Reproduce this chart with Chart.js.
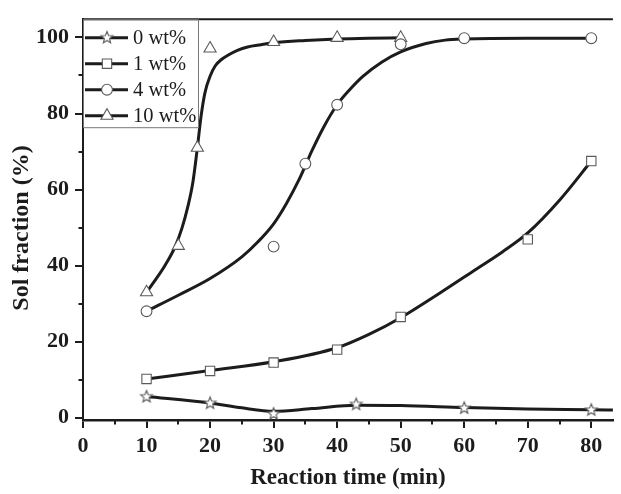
<!DOCTYPE html>
<html>
<head>
<meta charset="utf-8">
<script src="https://cdn.jsdelivr.net/npm/chart.js@4.4.1/dist/chart.umd.min.js"></script>
<style>
  html, body { margin: 0; padding: 0; background: #fff; overflow: hidden; }
  #wrap { width: 621px; height: 494px; }
</style>
</head>
<body>
<div id="wrap"><canvas id="solChart" width="621" height="494"></canvas></div>
<script>
// measured sol fractions per filler loading
const seriesNames = ['0 wt%', '1 wt%', '4 wt%', '10 wt%']

const time0 = [10, 20, 30, 43, 60, 80]
const sol0 = [5.5, 3.8, 1.0, 3.5, 2.5, 2.0]
const time1 = [10, 20, 30, 40, 50, 70, 80]
const sol1 = [10.2, 12.3, 14.5, 17.9, 26.5, 46.9, 67.5]
const time4 = [10, 30, 35, 40, 50, 60, 80]
const sol4 = [28, 45, 66.8, 82.3, 98.2, 99.8, 99.8]
const time10 = [10, 15, 18, 20, 30, 40, 50]
const sol10 = [33, 45.2, 71, 97.1, 98.8, 99.9, 99.9]

// fitted curves
const fitTime0 = [10, 20, 25, 30, 36, 43, 50, 60, 70, 80, 84]
const fitSol0 = [5.6, 3.9, 2.6, 1.7, 2.4, 3.3, 3.2, 2.7, 2.3, 2.1, 2.0]
const fitTime1 = [10, 20, 30, 40, 45, 50, 56, 62, 66, 70, 75, 80]
const fitSol1 = [10.2, 12.4, 14.7, 18.4, 21.9, 26.3, 32.6, 39.2, 43.6, 48.6, 57.2, 67.5]
const fitTime4 = [10, 15, 20, 25, 27.5, 30, 32, 34, 35, 36, 38, 40, 42, 44, 47, 50, 54, 57, 60, 70, 80]
const fitSol4 = [28, 32.2, 36.6, 42.3, 46.2, 51, 56.3, 62.6, 66.3, 70.1, 76.8, 82.3, 86.3, 89.7, 93.5, 96.2, 98.4, 99.3, 99.6, 99.8, 99.8]
const fitTime10 = [10, 11.5, 13, 14.5, 15.6, 16.5, 17.3, 18, 18.6, 19.2, 20, 20.8, 21.8, 22.8, 24.3, 25.9, 28, 30, 35, 40, 45, 50]
const fitSol10 = [33, 36.5, 40.3, 45, 50, 55.5, 62, 71, 79.5, 85.5, 89.8, 92.5, 94.2, 95.3, 96.6, 97.5, 98.1, 98.6, 99.2, 99.6, 99.8, 99.9]

const xTicks = [0, 10, 20, 30, 40, 50, 60, 70, 80]
const yTicks = [0, 20, 40, 60, 80, 100]

const pair = (xs, ys) => xs.map((x, i) => ({ x: x, y: ys[i] }))

const INK = '#1c1c1c'
const MARK = '#5a5a5a'
const SERIF = '"Liberation Serif", "Times New Roman", serif'

// open five-point star used for the 0 wt% markers
function makeStar(outer, inner) {
  const size = Math.ceil(outer * 2 + 3)
  const c = document.createElement('canvas')
  c.width = size
  c.height = size
  const g = c.getContext('2d')
  g.beginPath()
  for (let i = 0; i < 10; i++) {
    const r = i % 2 === 0 ? outer : inner
    const a = -Math.PI / 2 + i * Math.PI / 5
    const px = size / 2 + r * Math.cos(a)
    const py = size / 2 + r * Math.sin(a)
    if (i === 0) g.moveTo(px, py)
    else g.lineTo(px, py)
  }
  g.closePath()
  g.fillStyle = '#fff'
  g.fill()
  g.strokeStyle = MARK
  g.lineWidth = 1.1
  g.stroke()
  return c
}

const starImg = makeStar(6.2, 2.7)

const markerStyles = [
  { pointStyle: starImg, radius: 6 },
  { pointStyle: 'rect', radius: 6.6 },
  { pointStyle: 'circle', radius: 5.4 },
  { pointStyle: 'triangle', radius: 7 }
]

function fitLine(xs, ys) {
  return {
    data: pair(xs, ys),
    showLine: true,
    borderColor: INK,
    borderWidth: 3,
    pointRadius: 0,
    cubicInterpolationMode: 'monotone',
    order: 2
  }
}

function markers(xs, ys, k) {
  return {
    label: seriesNames[k],
    data: pair(xs, ys),
    showLine: false,
    pointStyle: markerStyles[k].pointStyle,
    pointRadius: markerStyles[k].radius,
    pointBackgroundColor: '#fff',
    pointBorderColor: MARK,
    pointBorderWidth: 1.1,
    order: 1
  }
}

// top frame line plus the minor ticks on both axes
const framePlugin = {
  id: 'frame',
  afterDraw(chart) {
    const { ctx, chartArea: a, scales } = chart
    ctx.save()
    ctx.strokeStyle = INK
    ctx.lineWidth = 2
    ctx.beginPath()
    ctx.moveTo(a.left - 1, a.top)
    ctx.lineTo(a.right, a.top)
    ctx.stroke()

    for (let v = 10; v < 100; v += 20) {
      const y = Math.round(scales.y.getPixelForValue(v))
      ctx.beginPath()
      ctx.moveTo(a.left, y)
      ctx.lineTo(a.left - 4.5, y)
      ctx.stroke()
    }
    for (let v = 5; v < 84; v += 10) {
      const x = Math.round(scales.x.getPixelForValue(v))
      ctx.beginPath()
      ctx.moveTo(x, a.bottom)
      ctx.lineTo(x, a.bottom + 4.5)
      ctx.stroke()
    }

    // y axis title
    ctx.fillStyle = INK
    ctx.font = 'bold 24px ' + SERIF
    ctx.textAlign = 'center'
    ctx.textBaseline = 'middle'
    ctx.translate(22, 228)
    ctx.rotate(-Math.PI / 2)
    ctx.fillText('Sol fraction (%)', 0, 0)
    ctx.restore()
  }
}

// boxed legend in the upper left corner of the plot
const legendPlugin = {
  id: 'boxLegend',
  afterDraw(chart) {
    const { ctx, chartArea: a } = chart
    const left = a.left
    const top = a.top
    ctx.save()
    ctx.strokeStyle = '#777'
    ctx.lineWidth = 1
    ctx.strokeRect(left + 0.5, top + 0.5, 115, 108)

    seriesNames.forEach((name, i) => {
      const y = top + 18.5 + i * 26
      ctx.strokeStyle = INK
      ctx.lineWidth = 3
      ctx.beginPath()
      ctx.moveTo(left + 2, y)
      ctx.lineTo(left + 45, y)
      ctx.stroke()

      ctx.fillStyle = '#fff'
      ctx.strokeStyle = MARK
      ctx.lineWidth = 1.1
      Chart.helpers.drawPoint(ctx, {
        pointStyle: markerStyles[i].pointStyle,
        radius: markerStyles[i].radius,
        rotation: 0,
        borderWidth: 1.1
      }, left + 24, y)

      ctx.fillStyle = INK
      ctx.font = '20.5px ' + SERIF
      ctx.textAlign = 'left'
      ctx.textBaseline = 'middle'
      ctx.fillText(name, left + 50, y + 1)
    })
    ctx.restore()
  }
}

new Chart(document.getElementById('solChart'), {
  type: 'scatter',
  data: {
    datasets: [
      markers(time0, sol0, 0),
      markers(time1, sol1, 1),
      markers(time4, sol4, 2),
      markers(time10, sol10, 3),
      fitLine(fitTime0, fitSol0),
      fitLine(fitTime1, fitSol1),
      fitLine(fitTime4, fitSol4),
      fitLine(fitTime10, fitSol10)
    ]
  },
  options: {
    responsive: false,
    animation: false,
    devicePixelRatio: 1,
    layout: { padding: { top: 15, right: 0, left: 0, bottom: 0 } },
    plugins: {
      legend: { display: false },
      tooltip: { enabled: false }
    },
    scales: {
      x: {
        type: 'linear',
        min: 0,
        max: 83.4,
        afterFit(scale) { scale.height = 74 },
        afterBuildTicks(scale) { scale.ticks = xTicks.map(v => ({ value: v })) },
        border: { color: INK, width: 2.5 },
        grid: { drawOnChartArea: false, color: INK, lineWidth: 2, tickLength: 8 },
        ticks: {
          color: INK,
          padding: 5,
          maxRotation: 0,
          autoSkip: false,
          font: { family: SERIF, size: 22, weight: 'bold' }
        },
        title: {
          display: true,
          text: 'Reaction time (min)',
          color: INK,
          padding: { top: 0, bottom: 2 },
          font: { family: SERIF, size: 23, weight: 'bold' }
        }
      },
      y: {
        type: 'linear',
        min: -0.6,
        max: 104.8,
        afterFit(scale) { scale.width = 83 },
        afterBuildTicks(scale) { scale.ticks = yTicks.map(v => ({ value: v })) },
        border: { color: INK, width: 2 },
        grid: { drawOnChartArea: false, color: INK, lineWidth: 2, tickLength: 8 },
        ticks: {
          color: INK,
          padding: 6,
          font: { family: SERIF, size: 22, weight: 'bold' }
        }
      }
    }
  },
  plugins: [framePlugin, legendPlugin]
})
</script>
</body>
</html>
